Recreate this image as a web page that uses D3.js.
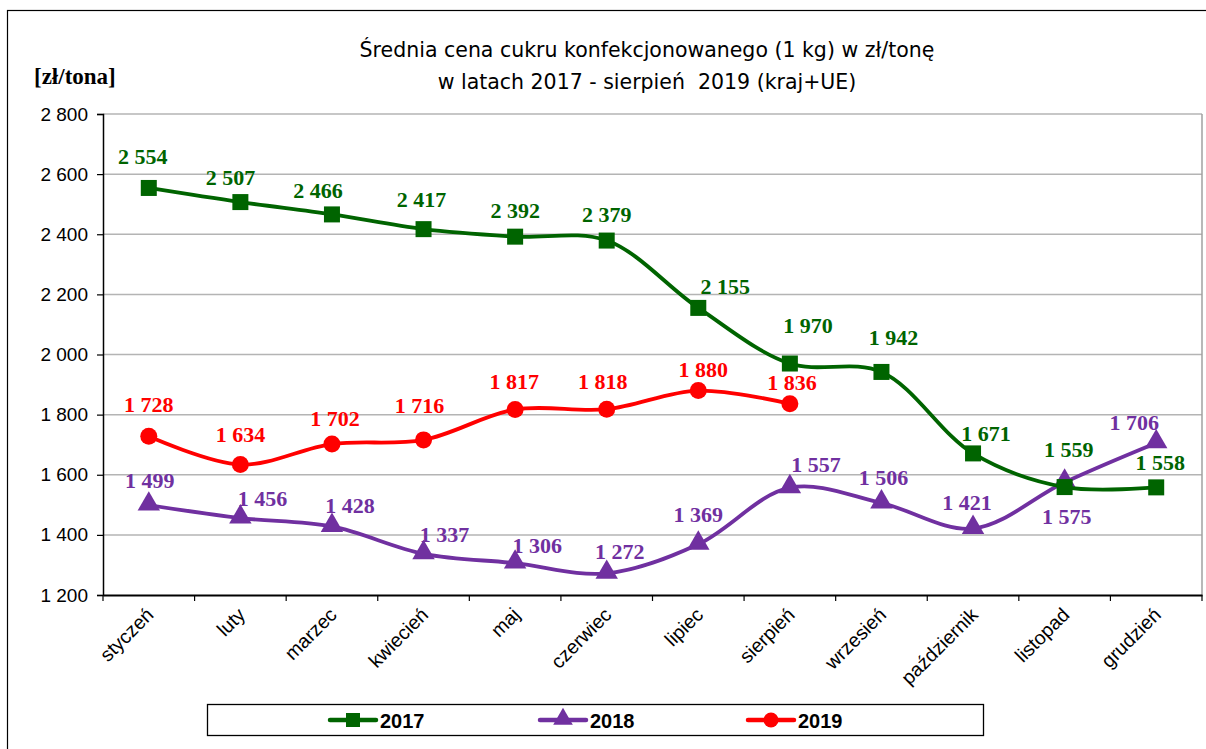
<!DOCTYPE html>
<html><head><meta charset="utf-8">
<script src="https://cdn.jsdelivr.net/npm/d3@7"></script>
<style>body{margin:0;background:#fff}svg{display:block}</style>
</head><body>
<svg id="c" width="1206" height="749"></svg>
<script>
const months = ["styczeń","luty","marzec","kwiecień","maj","czerwiec","lipiec","sierpień","wrzesień","październik","listopad","grudzień"];
const v2017 = [2554,2507,2466,2417,2392,2379,2155,1970,1942,1671,1559,1558];
const v2018 = [1499,1456,1428,1337,1306,1272,1369,1557,1506,1421,1575,1706];
const v2019 = [1728,1634,1702,1716,1817,1818,1880,1836];
const yTicks = [1200,1400,1600,1800,2000,2200,2400,2600,2800];
const seriesNames = ["2017","2018","2019"];
const titleLines = ["Średnia cena cukru konfekcjonowanego (1 kg) w zł/tonę","w latach 2017 - sierpień  2019 (kraj+UE)"];

// label offsets (layout only)
const off2017 = [[-6,-31],[-10,-25],[-14,-24],[-2,-30],[0,-26],[0,-26],[27,-21],[18,-38],[12,-34],[13,-20],[4,-38],[4,-25]];
const off2018 = [[1,-25],[22,-20],[18,-21],[21,-19],[22,-18],[13,-22],[0,-30],[26,-23],[2,-26],[-6,-26],[2,34],[-22,-20]];
const off2019 = [[0,-32],[0,-30],[3,-26],[-4,-34],[-1,-28],[-4,-28],[5,-21],[2,-21]];

const svg = d3.select("#c");
const L=103, R=1202, T=114, B=595;
const x = d3.scaleBand().domain(months).range([L,R]).padding(0);
const y = d3.scaleLinear().domain([1200,2800]).range([B,T]);
const fmt = v => d3.format(",")(v).replace(/,/g," ");
const SANS = "Liberation Sans, Arial, sans-serif", SERIF = "Liberation Serif, Times New Roman, serif";

// outer frame
svg.append("rect").attr("x",7.5).attr("y",10.5).attr("width",1220).attr("height",760)
  .attr("fill","none").attr("stroke","#000").attr("stroke-width",1.2);

// gridlines
svg.append("g").selectAll("line").data(yTicks.slice(1)).join("line")
  .attr("x1",L).attr("x2",R).attr("y1",d=>y(d)).attr("y2",d=>y(d))
  .attr("stroke","#b4b4b4").attr("stroke-width",1.5);
svg.append("line").attr("x1",R).attr("x2",R).attr("y1",T).attr("y2",B).attr("stroke","#a0a0a0").attr("stroke-width",1.5);

// y axis
const ya = svg.append("g").attr("transform",`translate(${L},0)`)
  .call(d3.axisLeft(y).tickValues(yTicks).tickFormat(fmt).tickSize(6).tickPadding(9));
ya.select(".domain").attr("stroke","#000").attr("stroke-width",1.5);
ya.selectAll(".tick line").attr("stroke","#000").attr("stroke-width",1.2);
ya.selectAll("text").attr("font-family",SANS).attr("font-size",19).attr("fill","#000");

// x axis
const xa = svg.append("g").attr("transform",`translate(0,${B})`)
  .call(d3.axisBottom(x).tickSize(0).tickFormat(""));
xa.select(".domain").attr("stroke","#000").attr("stroke-width",1.8);
svg.append("g").selectAll("line").data(d3.range(months.length+1)).join("line")
  .attr("x1",i=>L+i*x.step()).attr("x2",i=>L+i*x.step()).attr("y1",B).attr("y2",B+6)
  .attr("stroke","#000").attr("stroke-width",1.2);
svg.append("g").selectAll("text").data(months).join("text")
  .attr("transform",d=>`translate(${x(d)+x.bandwidth()/2+6},${B+21}) rotate(-45)`)
  .attr("text-anchor","end").attr("font-family",SANS)
  .attr("font-size",19.5).attr("fill","#000").text(d=>d);

// titles
svg.append("g").selectAll("text").data(titleLines).join("text")
  .attr("x",647).attr("y",(d,i)=>57+i*32).attr("text-anchor","middle").attr("xml:space","preserve")
  .style("white-space","pre")
  .attr("font-family","DejaVu Sans, sans-serif").attr("font-size",20.5).attr("fill","#000").text(d=>d);
svg.append("text").attr("x",34).attr("y",84).attr("font-family",SERIF)
  .attr("font-weight","bold").attr("font-size",23).text("[zł/tona]");

const colors = ["#006400","#7030A0","#FF0000"];
const datasets = [v2017,v2018,v2019];
const offsets = [off2017,off2018,off2019];
const line = d3.line().x((d,i)=>x(months[i])+x.bandwidth()/2).y(d=>y(d)).curve(d3.curveCatmullRom.alpha(0.5));

function marker(g, type, color, size){
  if(type===0) g.append("rect").attr("x",-size/2).attr("y",-size/2).attr("width",size).attr("height",size).attr("fill",color);
  else if(type===1) g.append("path").attr("d",d3.symbol(d3.symbolTriangle, size*size*0.85)()).attr("fill",color).attr("transform","translate(0,-1)");
  else g.append("circle").attr("r",size/2+0.5).attr("fill",color);
}

[1,0,2].forEach(s=>{
  const data = datasets[s], c = colors[s];
  const g = svg.append("g");
  g.append("path").datum(data).attr("d",line).attr("fill","none").attr("stroke",c).attr("stroke-width",3.8);
  data.forEach((v,i)=>{
    const px = x(months[i])+x.bandwidth()/2, py = y(v);
    marker(g.append("g").attr("transform",`translate(${px},${py})`), s, c, 16);
  });
});
[0,1,2].forEach(s=>{
  const data = datasets[s], c = colors[s];
  svg.append("g").selectAll("text").data(data).join("text")
    .attr("x",(d,i)=>x(months[i])+x.bandwidth()/2+offsets[s][i][0])
    .attr("y",(d,i)=>y(d)+offsets[s][i][1]+7.5)
    .attr("text-anchor","middle").attr("font-family",SERIF)
    .attr("font-weight","bold").attr("font-size",22).attr("fill",c).text(d=>fmt(d));
});

// legend
svg.append("rect").attr("x",207.5).attr("y",704.5).attr("width",776).attr("height",31)
  .attr("fill","#fff").attr("stroke","#000").attr("stroke-width",1.3);
const lx = [330,540,748];
seriesNames.forEach((n,s)=>{
  const g = svg.append("g").attr("transform",`translate(${lx[s]},720)`);
  g.append("line").attr("x1",0).attr("x2",46).attr("stroke",colors[s]).attr("stroke-width",4.5).attr("stroke-linecap","round");
  marker(g.append("g").attr("transform","translate(23,0)"), s, colors[s], 14);
  g.append("text").attr("x",50).attr("y",8).attr("font-family",SANS)
    .attr("font-weight","bold").attr("font-size",20).text(n);
});
</script>
</body></html>
